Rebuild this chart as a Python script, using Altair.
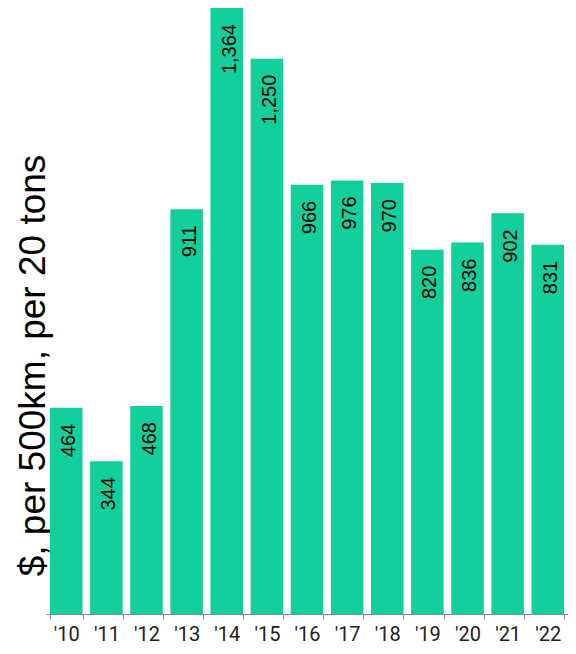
import altair as alt
import pandas as pd

years = ["'10", "'11", "'12", "'13", "'14", "'15", "'16", "'17", "'18", "'19", "'20", "'21", "'22"]
values = [464, 344, 468, 911, 1364, 1250, 966, 976, 970, 820, 836, 902, 831]

df = pd.DataFrame({"year": years, "value": values})

x_enc = alt.X(
    "year:N",
    sort=years,
    scale=alt.Scale(paddingInner=0.19, paddingOuter=0.1),
    axis=alt.Axis(
        title=None,
        labelAngle=0,
        tickBand="extent",
        tickSize=5,
        tickColor="#888888",
        domainColor="#888888",
        labelFontSize=20,
        labelFont="Roboto",
        labelColor="#222222",
        labelPadding=5,
        grid=False,
    ),
)
y_enc = alt.Y(
    "value:Q",
    scale=alt.Scale(domain=[0, 1364], nice=False),
    axis=alt.Axis(
        title="$, per 500km, per 20 tons",
        labels=False,
        ticks=False,
        domain=False,
        grid=False,
        titleAngle=270,
        titleAlign="center",
        titleBaseline="alphabetic",
        titleX=-2,
        titleY=357,
        titleFontSize=37,
        titleFont="Liberation Sans",
        titleFontWeight="normal",
        titleColor="#000000",
    ),
)

base = alt.Chart(df).encode(x=x_enc, y=y_enc)

bars = base.mark_bar(color="#13CF9B")
texts = base.mark_text(
    angle=270,
    align="right",
    baseline="middle",
    dx=-16,
    dy=3,
    fontSize=20,
    font="Liberation Sans",
    color="#000000",
).encode(text=alt.Text("value:Q", format=","))

chart = (
    alt.layer(bars, texts)
    .properties(
        width=522,
        height=606,
        autosize=alt.AutoSizeParams(type="none"),
        padding={"left": 38, "top": 0, "right": 0, "bottom": 30},
    )
    .configure_view(stroke=None)
)

chart.save("out.html", embed_options={"renderer": "svg", "actions": False})
